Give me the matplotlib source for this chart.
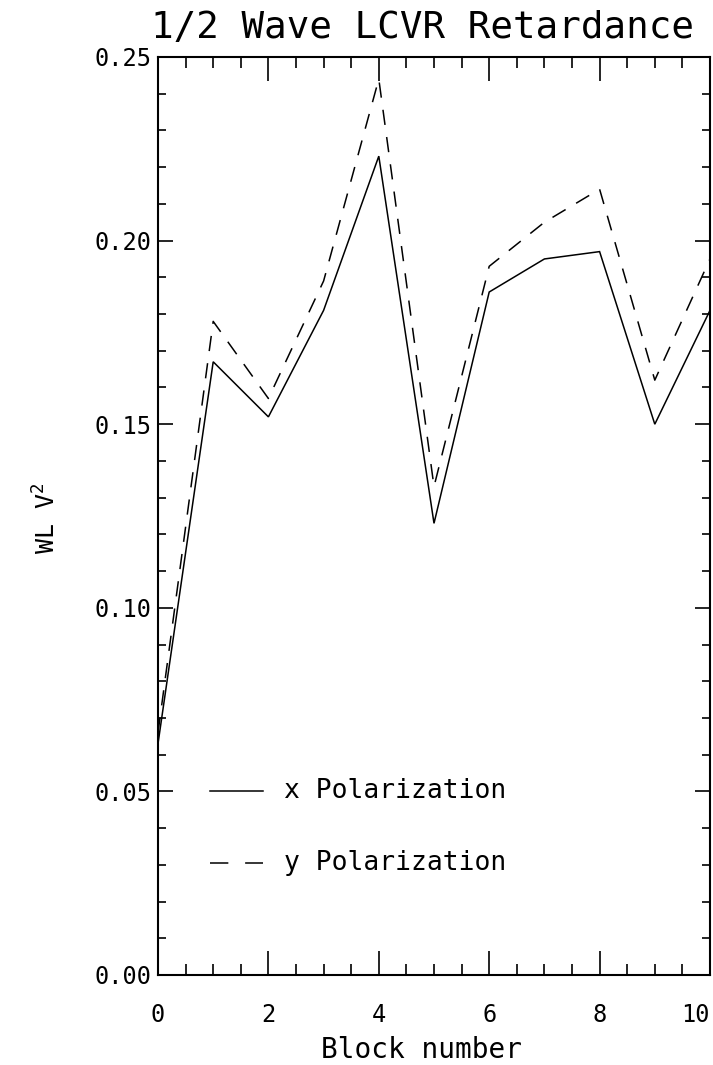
import matplotlib
matplotlib.use("Agg")
import matplotlib.pyplot as plt
from matplotlib.ticker import MultipleLocator, FixedLocator, FormatStrFormatter

blocks = [0, 1, 2, 3, 4, 5, 6, 7, 8, 9, 10]
x_pol = [0.063, 0.167, 0.152, 0.181, 0.223, 0.123, 0.186, 0.195, 0.197, 0.150, 0.181]
y_pol = [0.066, 0.178, 0.157, 0.189, 0.244, 0.133, 0.193, 0.205, 0.214, 0.162, 0.195]
xticks = [0, 2, 4, 6, 8, 10]
legend_labels = ["x Polarization", "y Polarization"]
title = "1/2 Wave LCVR Retardance"
xlabel = "Block number"
ylabel = "WL V$^2$"

plt.rcParams['font.family'] = ['DejaVu Sans Mono']
plt.rcParams['mathtext.fontset'] = 'custom'
plt.rcParams['mathtext.rm'] = 'DejaVu Sans Mono'
fig = plt.figure(figsize=(7.13, 10.65), dpi=100)
ax = fig.add_axes([158/713, 1 - 975/1065, (710 - 158)/713, (975 - 57)/1065])

ax.plot(blocks, x_pol, color='black', lw=1.1, solid_joinstyle='miter')
ax.plot(blocks, y_pol, color='black', lw=1.1, dashes=(10, 8))

ax.set_xlim(0, 10)
ax.set_ylim(0, 0.25)
ax.xaxis.set_major_locator(FixedLocator(xticks))
ax.xaxis.set_minor_locator(MultipleLocator(0.5))
ax.yaxis.set_major_locator(MultipleLocator(0.05))
ax.yaxis.set_minor_locator(MultipleLocator(0.01))
ax.yaxis.set_major_formatter(FormatStrFormatter('%.2f'))
ax.tick_params(which='both', direction='in', top=True, right=True, width=1.2)
ax.tick_params(axis='x', which='major', length=17, pad=20, labelsize=17)
ax.tick_params(axis='x', which='minor', length=8)
ax.tick_params(axis='y', which='major', length=11, pad=5, labelsize=17)
ax.tick_params(axis='y', which='minor', length=6)
for s in ax.spines.values():
    s.set_linewidth(1.5)

fig.canvas.draw()
lab10 = ax.xaxis.get_major_ticks()[-1].label1
lab10.set_horizontalalignment('right')
lab10.set_x(10)

ax.set_title(title, fontsize=27, pad=14, x=0.48)
ax.set_xlabel(xlabel, fontsize=20, labelpad=7, x=0.478)
ax.set_ylabel(ylabel, fontsize=18, labelpad=24, y=0.497)

# legend drawn manually in data coordinates
ax.plot([0.95, 1.9], [0.05, 0.05], color='black', lw=1.1)
ax.plot([0.95, 1.9], [0.0305, 0.0305], color='black', lw=1.1, dashes=(12, 11))
ax.text(2.28, 0.05, legend_labels[0], fontsize=19, va='center', ha='left')
ax.text(2.28, 0.0305, legend_labels[1], fontsize=19, va='center', ha='left')

fig.savefig("out.png", dpi=100)
